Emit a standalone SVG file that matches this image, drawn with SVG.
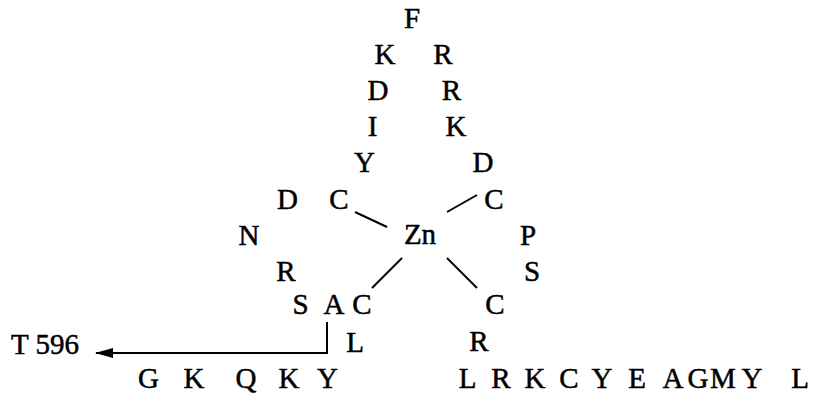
<svg xmlns="http://www.w3.org/2000/svg" width="819" height="397" viewBox="0 0 819 397">
<style>
text{font-family:"Liberation Serif","Times New Roman",serif;font-size:29px;fill:#000;stroke:#000;stroke-width:0.5;text-anchor:middle}
.s{text-anchor:start}
.ln{stroke:#000;stroke-width:2;fill:none}
</style>
<defs>
<marker id="ah" markerWidth="18" markerHeight="10" refX="17" refY="5" orient="auto" markerUnits="userSpaceOnUse">
<path d="M0,0 L18,5 L0,10 Z" fill="#000"/>
</marker>
</defs>
<rect width="819" height="397" fill="#fff"/>
<g id="loop-top">
<g id="F1"><text x="412" y="28">F</text></g>
<g id="K1"><text x="385" y="64">K</text></g>
<g id="R1"><text x="443" y="64">R</text></g>
<g id="D1"><text x="378" y="100">D</text></g>
<g id="R2"><text x="451.5" y="100">R</text></g>
<g id="I1"><text x="372.5" y="136">I</text></g>
<g id="K2"><text x="456" y="136">K</text></g>
<g id="Y1"><text x="364.5" y="172">Y</text></g>
<g id="D2"><text x="483" y="172">D</text></g>
</g>
<g id="D3"><text x="287.5" y="209">D</text></g>
<g id="C1"><text x="339" y="209">C</text></g>
<g id="C2"><text x="494" y="209">C</text></g>
<g id="Zn"><text x="420" y="244">Zn</text></g>
<g id="N1"><text x="249" y="245">N</text></g>
<g id="P1"><text x="528" y="245">P</text></g>
<g id="R3"><text x="286" y="281">R</text></g>
<g id="S1"><text x="532" y="281">S</text></g>
<g id="S2"><text x="300.5" y="314">S</text></g>
<g id="A1"><text x="334" y="314">A</text></g>
<g id="C3"><text x="362" y="314">C</text></g>
<g id="C4"><text x="495" y="314">C</text></g>
<g id="L1"><text x="355" y="352">L</text></g>
<g id="R4"><text x="479" y="351">R</text></g>
<g id="T596"><text class="s" x="11" y="354">T 596</text></g>
<g id="row-left">
<text x="148.5" y="388">G</text>
<text x="194" y="388">K</text>
<text x="246" y="388">Q</text>
<text x="289" y="388">K</text>
<text x="327.5" y="388">Y</text>
</g>
<g id="row-right">
<text x="467.5" y="388">L</text>
<text x="501" y="388">R</text>
<text x="535" y="388">K</text>
<text x="569" y="388">C</text>
<text x="602" y="388">Y</text>
<text x="637" y="388">E</text>
<text x="673" y="388">A</text>
<text x="698" y="388">G</text>
<text x="723" y="388">M</text>
<text x="752" y="388">Y</text>
<text x="800" y="388">L</text>
</g>
<g id="connectors">
<line class="ln" x1="355" y1="212" x2="387" y2="227"/>
<line class="ln" x1="447" y1="212" x2="477" y2="195"/>
<line class="ln" x1="402" y1="258" x2="372" y2="288"/>
<line class="ln" x1="447" y1="258" x2="477" y2="288"/>
<polyline class="ln" points="327,322 327,353 96,353" marker-end="url(#ah)"/>
</g>
</svg>
